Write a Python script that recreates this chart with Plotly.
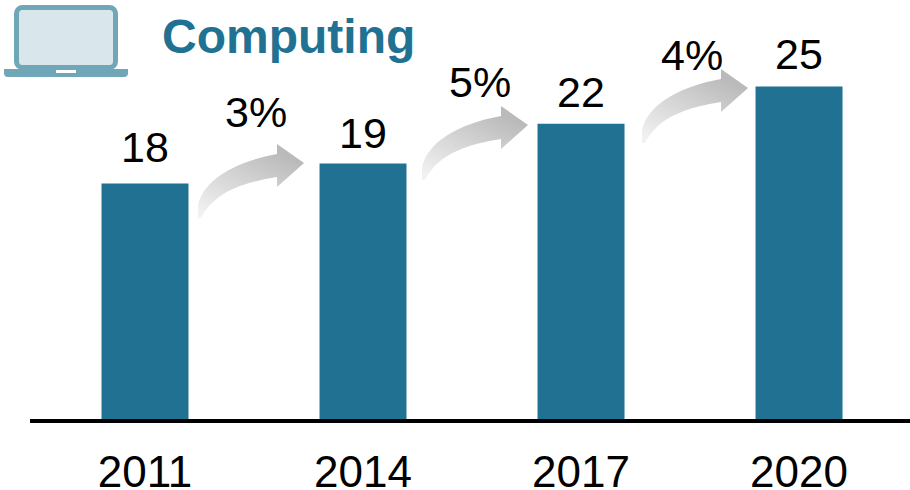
import base64
import plotly.graph_objects as go

categories = ["2011", "2014", "2017", "2020"]
bar_values = [17.7, 19.2, 22.2, 25.0]
value_labels = ["18", "19", "22", "25"]
growth_labels = ["3%", "5%", "4%"]

W, H = 910, 490
ML, MB = 30, 71
PLOT_W, PLOT_H = W - ML, H - MB
TEAL = "#217292"
LABEL_YSHIFT = [11, 5, 6, 6]

def px(x):
    return (x - ML) / PLOT_W

def py(y):
    return 1 - y / PLOT_H

def svg_uri(svg):
    return "data:image/svg+xml;base64," + base64.b64encode(svg.encode()).decode()

arrow_svg = """<svg xmlns="http://www.w3.org/2000/svg" width="112" height="80" viewBox="0 0 112 80">
<defs><linearGradient id="g" x1="0.75" y1="0.1" x2="0.1" y2="1">
<stop offset="0" stop-color="#bababa"/><stop offset="1" stop-color="#f2f2f2"/></linearGradient></defs>
<path d="M1 76 L1 64 C5 40 35 20 80 12 L80 2 L107 21 L80 45 L80 35 C50 40 18 48 4 76 Z" fill="url(#g)"/></svg>"""

laptop_svg = """<svg xmlns="http://www.w3.org/2000/svg" width="130" height="80" viewBox="0 0 130 80">
<rect x="16.5" y="7.5" width="99" height="60" rx="6" fill="#d9e6ec" stroke="#6fa6b8" stroke-width="5"/>
<path d="M4 69 H128 V73 Q128 77 124 77 H8 Q4 77 4 73 Z" fill="#6fa6b8"/>
<rect x="56" y="70" width="20" height="3" fill="#ffffff"/></svg>"""

images = [dict(source=svg_uri(laptop_svg), xref="paper", yref="paper", x=px(0), y=py(0),
               sizex=130 / PLOT_W, sizey=80 / PLOT_H, xanchor="left", yanchor="top",
               sizing="stretch", layer="above")]
for left, top in [(197, 142), (421, 104), (641, 67)]:
    images.append(dict(source=svg_uri(arrow_svg), xref="paper", yref="paper", x=px(left), y=py(top),
                       sizex=112 / PLOT_W, sizey=80 / PLOT_H, xanchor="left", yanchor="top",
                       sizing="stretch", layer="above"))

fig = go.Figure(go.Bar(x=categories, y=bar_values, marker=dict(color=TEAL, line=dict(width=0)), width=0.399,
                       hoverinfo="skip"))

annotations = []
for i, (v, t, s) in enumerate(zip(bar_values, value_labels, LABEL_YSHIFT)):
    annotations.append(dict(xref="x", yref="y", x=i, y=v, text=t, showarrow=False, yanchor="bottom", yshift=s,
                            font=dict(size=43, color="#000000")))
for (x, y), t in zip([(256, 112), (480, 82), (692, 55)], growth_labels):
    annotations.append(dict(xref="paper", yref="paper", x=px(x), y=py(y), text=t, showarrow=False,
                            xanchor="center", yanchor="middle", font=dict(size=43, color="#000000")))
annotations.append(dict(xref="paper", yref="paper", x=px(288), y=py(37), text="<b>Computing</b>",
                        showarrow=False, xanchor="center", yanchor="middle",
                        font=dict(size=48, color=TEAL)))

fig.update_layout(
    width=W, height=H,
    margin=dict(l=ML, r=0, t=0, b=MB, pad=0, autoexpand=False),
    paper_bgcolor="white", plot_bgcolor="white",
    font=dict(family="Liberation Sans, Arial, sans-serif"),
    showlegend=False,
    images=images,
    annotations=annotations,
    xaxis=dict(type="category", range=[-0.5275, 3.509], showline=True, linecolor="#000000", linewidth=4,
               ticks="", tickfont=dict(size=44, color="#000000"), showgrid=False, zeroline=False,
               ticklabelstandoff=11, automargin=False),
    yaxis=dict(range=[0, 31.5], visible=False, showgrid=False, zeroline=False),
)

fig.write_html("out.html", config=dict(displayModeBar=False),
               post_script="document.body.style.margin='0';document.documentElement.style.overflow='hidden';")
